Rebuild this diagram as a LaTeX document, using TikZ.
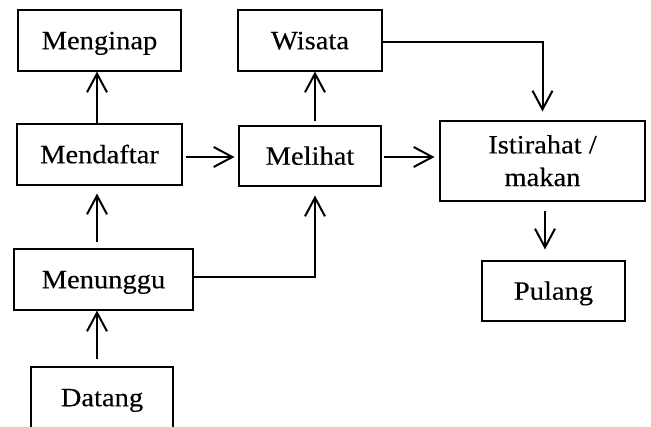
\documentclass[tikz,border=0pt]{standalone}
\usepackage{fontspec}
\setmainfont{Liberation Serif}[RawFeature={embolden=0.3}]
\usetikzlibrary{arrows.meta}
% labels are set slightly wide
\newcommand\widetext[1]{\scalebox{1.08}[1]{#1}}
\begin{document}
\begin{tikzpicture}[x=0.75pt,y=-0.75pt,
  box/.style={draw, line width=0.8pt, inner sep=0pt, align=center,
    text height=13.1pt, text depth=0pt,
    font=\fontsize{19.8pt}{24.45pt}\selectfont},
  flow/.style={line width=1.5pt,
    -{Straight Barb[length=14pt,width=15pt]}}]
\clip (0,0) rectangle (651,426);
% boxes
\node[box, minimum width=122.25pt, minimum height=45.75pt] (menginap) at (99.5,40.5) {\widetext{Menginap}};
\node[box, minimum width=123.75pt, minimum height=45.75pt] (mendaftar) at (99.5,154.5) {\widetext{Mendaftar}};
\node[box, minimum width=108pt, minimum height=45.75pt] (wisata) at (310,40.5) {\widetext{Wisata}};
\node[box, minimum width=106.5pt, minimum height=45pt] (melihat) at (310,156) {\widetext{Melihat}};
\node[box, minimum width=153.75pt, minimum height=60pt, text height=37.55pt] (istirahat) at (542.5,161) {\widetext{Istirahat /}\\\widetext{makan}};
\node[box, minimum width=134.25pt, minimum height=45.75pt] (menunggu) at (103.5,279.5) {\widetext{Menunggu}};
\node[box, minimum width=106.5pt, minimum height=45.75pt] (datang) at (102,397.5) {\widetext{Datang}};
\node[box, minimum width=107.25pt, minimum height=45pt] (pulang) at (553.5,291) {\widetext{Pulang}};
% connectors
\draw[flow] ([xshift=-1.875pt]mendaftar.north) -- ([xshift=-1.875pt]menginap.south);
\draw[flow, shorten <=4.5pt, shorten >=6pt] ([xshift=-4.875pt]menunggu.north) -- ([xshift=-1.875pt]mendaftar.south);
\draw[flow, shorten <=5.25pt] ([xshift=-3.75pt]datang.north) -- ([xshift=-4.875pt]menunggu.south);
\draw[flow, shorten <=2.25pt, shorten >=3pt] ([yshift=-1.875pt]mendaftar.east) -- ([yshift=-1.875pt]mendaftar.east -| melihat.west);
\draw[flow, shorten <=3pt] ([xshift=3.75pt]melihat.north) -- ([xshift=3.75pt]melihat.north |- wisata.south);
\draw[flow, shorten <=1.5pt, shorten >=3.75pt] ([yshift=-0.75pt]melihat.east) -- ([yshift=-0.75pt]melihat.east -| istirahat.west);
\draw[flow, shorten >=6.75pt] ([yshift=1.875pt]menunggu.east) -| ([xshift=3.75pt]melihat.south);
\draw[flow, shorten >=6.75pt] ([yshift=-0.9pt]wisata.east) -| (istirahat.north);
\draw[flow, shorten <=6.75pt, shorten >=8.25pt] ([xshift=1.875pt]istirahat.south) -- ([xshift=1.875pt]istirahat.south |- pulang.north);
\end{tikzpicture}
\end{document}
